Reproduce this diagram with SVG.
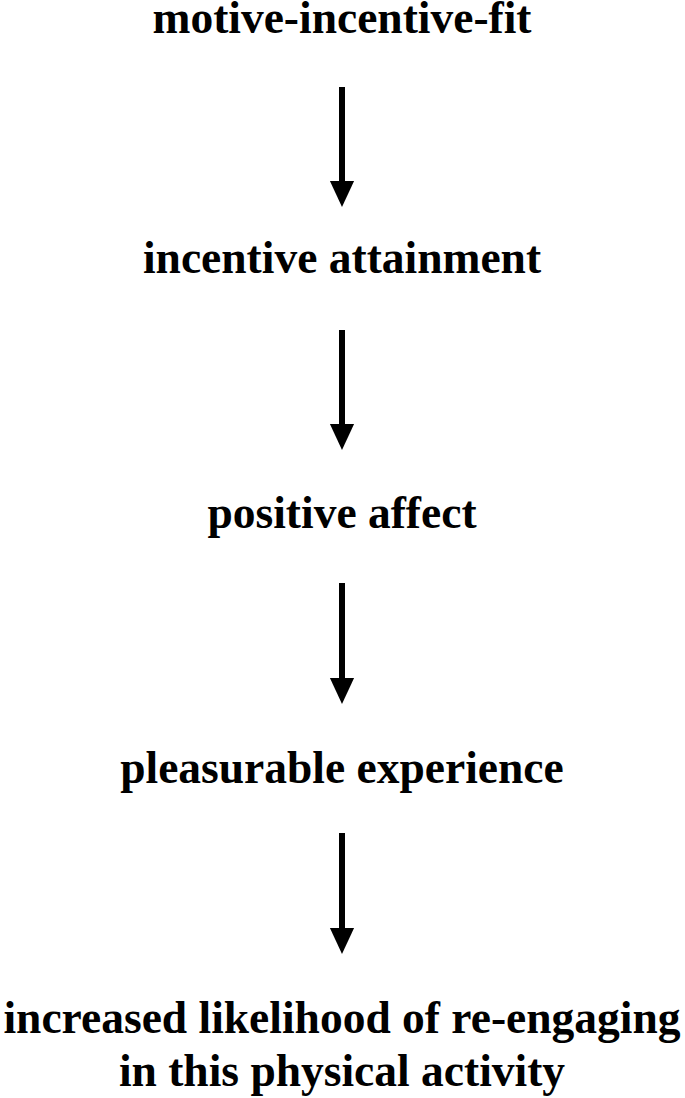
<svg xmlns="http://www.w3.org/2000/svg" width="685" height="1098" viewBox="0 0 685 1098">
<style>
text{font-family:"Liberation Serif","Times New Roman",serif;font-weight:bold;font-size:45.5px;text-anchor:middle;fill:#000}
.s{stroke:#000;stroke-width:6}
</style>
<defs><marker id="a" markerUnits="userSpaceOnUse" markerWidth="26" markerHeight="28" refX="0" refY="13" orient="auto" viewBox="0 0 28 26"><path d="M0,0L28,13L0,26Z"/></marker></defs>
<rect width="685" height="1098" fill="#fff"/>
<g id="n1"><text x="342" y="33">motive-incentive-fit</text></g>
<g id="n2"><text x="342" y="273">incentive attainment</text></g>
<g id="n3"><text x="342" y="528">positive affect</text></g>
<g id="n4"><text x="342" y="783">pleasurable experience</text></g>
<g id="n5"><text x="342" y="1033">increased likelihood of re-engaging</text><text x="342" y="1086">in this physical activity</text></g>
<g id="connectors">
<line class="s" x1="342" y1="87" x2="342" y2="181" marker-end="url(#a)"/>
<line class="s" x1="342" y1="330" x2="342" y2="424" marker-end="url(#a)"/>
<line class="s" x1="342" y1="583" x2="342" y2="678" marker-end="url(#a)"/>
<line class="s" x1="342" y1="833" x2="342" y2="928" marker-end="url(#a)"/>
</g>
</svg>
